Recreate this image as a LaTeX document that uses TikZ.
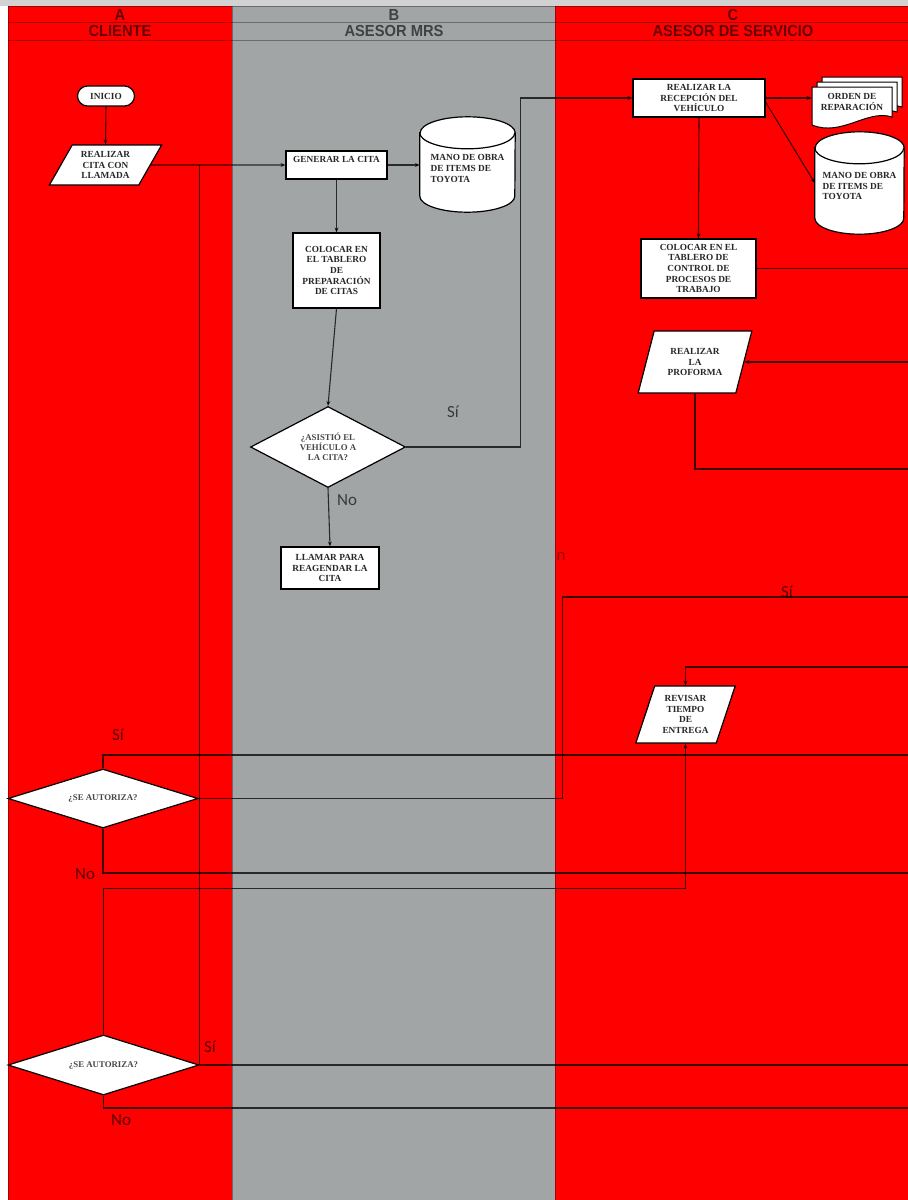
\documentclass[tikz,border=0pt]{standalone}
\usepackage{fontspec}
\setmainfont{Liberation Serif}
\newfontfamily\lblfont{Carlito}
\newfontfamily\hdrfont[FakeStretch=0.92]{Liberation Sans}
\usetikzlibrary{shapes.geometric,arrows.meta,calc}

\definecolor{lanered}{RGB}{255,0,0}
\definecolor{lanegray}{RGB}{162,165,166}
\definecolor{inkgray}{RGB}{40,40,40}

% cylinder outline around an empty slot node: #1 node, #2 half width, #3 cap radius
\newcommand\drawcyl[3]{%
  \draw[shapeline] ([yshift=-#3pt]#1.north west) -- ([yshift=#3pt]#1.south west)
    arc[start angle=180, end angle=360, x radius=#2pt, y radius=#3pt]
    -- ([yshift=-#3pt]#1.north east)
    arc[start angle=0, end angle=180, x radius=#2pt, y radius=#3pt] -- cycle;
  \draw[shapeline, fill=none] ([yshift=-#3pt]#1.north west)
    arc[start angle=180, end angle=360, x radius=#2pt, y radius=#3pt];
}
% one sheet of a document stack, local coordinates
\newcommand\docsheet{(-40,-20) -- (40,-20) -- (40,10) .. controls (15,2) and (-10,30) .. (-40,18) -- cycle}

\tikzset{
  shapeline/.style={draw=black, line width=1.2pt, fill=white},
  box/.style={shapeline, text=inkgray, font=\bfseries\fontsize{9.3}{10.7}\selectfont,
    align=center, inner sep=2pt},
  procbox/.style={box, rectangle},
  stadium/.style={box, rectangle, rounded corners=10pt},
  iobox/.style={box, trapezium, trapezium stretches=true},
  decision/.style={box, diamond, aspect=2.5, inner sep=0pt, text=black!72,
    font=\bfseries\fontsize{8.8}{9.8}\selectfont},
  slot/.style={rectangle, draw=none, fill=none, inner sep=0pt},
  slottext/.style={text=inkgray, font=\bfseries\fontsize{9.3}{10.7}\selectfont, inner sep=0pt},
  conn/.style={draw=black, draw opacity=0.75, line width=1.1pt},
  arr/.style={conn, -{Stealth[length=5pt,width=4pt]}},
  lbl/.style={font=\lblfont\fontsize{17}{17}\selectfont, text=black, text opacity=0.65, inner sep=0pt},
  hdr/.style={font=\hdrfont\bfseries\fontsize{16}{16}\selectfont, text=black, text opacity=0.6, inner sep=0pt},
  laneline/.style={draw=black, draw opacity=0.35, line width=0.8pt}
}

\begin{document}
\begin{tikzpicture}[x=1pt,y=-1pt]
\useasboundingbox (0,0) rectangle (908,1200);
% swimlanes
\fill[white] (0,0) rectangle (908,1200);
\fill[gray!35] (0,0) rectangle (908,6);
\fill[lanered] (8,6) rectangle (232,1200);
\fill[lanegray] (232,6) rectangle (555,1200);
\fill[lanered] (555,6) rectangle (908,1200);
\draw[laneline] (8,6) -- (908,6) (8,22) -- (908,22) (8,40) -- (908,40);
\draw[laneline] (8,6) -- (8,1200) (232,6) -- (232,1200) (555,6) -- (555,1200);

\node[hdr] (hA) at (120,14.5) {A};
\node[hdr] (hAname) at (120,31) {CLIENTE};
\node[hdr] (hB) at (394,14.5) {B};
\node[hdr] (hBname) at (394,31) {ASESOR MRS};
\node[hdr] (hC) at (733,14.5) {C};
\node[hdr] (hCname) at (733,31) {ASESOR DE SERVICIO};

% right border of the sheet, where the open connectors run out
\coordinate (edge) at (908,0);

% ---- Cliente
\node[stadium, minimum width=57pt, minimum height=20pt] (inicio) at (106,96) {INICIO};
\node[iobox, trapezium left angle=60, trapezium right angle=120,
      minimum width=113pt, minimum height=40pt] (cita) at (105.5,165) {REALIZAR\\CITA CON\\LLAMADA};
\node[decision, minimum width=190pt, minimum height=59pt] (auth1) at (103,798.5) {¿SE AUTORIZA?};
\node[decision, minimum width=191pt, minimum height=60pt] (auth2) at (103.5,1065) {¿SE AUTORIZA?};

% ---- Asesor MRS
\node[procbox, minimum width=101pt, minimum height=28pt] (genera) at (336.5,165) {GENERAR LA CITA\\\mbox{}};
\node[slot, minimum width=95pt, minimum height=95pt] (cyl1) at (467.5,164.5) {};
\drawcyl{cyl1}{47.5}{16}
\node[slottext, align=left] (cyl1text) at ([yshift=-4pt]cyl1.center) {MANO DE OBRA\\DE ITEMS DE\\TOYOTA};
\node[procbox, minimum width=87pt, minimum height=75pt] (colocar1) at (336.5,270.5) {COLOCAR EN\\EL TABLERO\\DE\\PREPARACIÓN\\DE CITAS};
\node[decision, minimum width=155pt, minimum height=81pt] (asistio) at (328,447) {¿ASISTIÓ EL\\VEHÍCULO A\\LA CITA?};
\node[procbox, minimum width=98pt, minimum height=42pt] (llamar) at (330,568) {LLAMAR PARA\\REAGENDAR LA\\CITA};

% ---- Asesor de servicio
\node[procbox, minimum width=132pt, minimum height=38pt] (recepcion) at (699,98) {REALIZAR LA\\RECEPCIÓN DEL\\VEHÍCULO};
\node[slot, minimum width=80pt, minimum height=40pt] (orden) at (852,107) {};
\begin{scope}[shift={(orden.center)}]
  \draw[shapeline, line width=1pt] [shift={(10,-10)}] \docsheet;
  \draw[shapeline, line width=1pt] [shift={(5,-5)}] \docsheet;
  \draw[shapeline, line width=1pt] \docsheet;
\end{scope}
\node[slottext, align=center] (ordentext) at ([yshift=5pt]orden.center) {ORDEN DE\\REPARACIÓN};
\node[slot, minimum width=89pt, minimum height=102pt] (cyl2) at (859.5,183) {};
\drawcyl{cyl2}{44.5}{16}
\node[slottext, align=left] (cyl2text) at ([yshift=-3pt]cyl2.center) {MANO DE OBRA\\DE ITEMS DE\\TOYOTA};
\node[procbox, minimum width=115pt, minimum height=59pt] (colocar2) at (698.5,268.5) {COLOCAR EN EL\\TABLERO DE\\CONTROL DE\\PROCESOS DE\\TRABAJO};
\node[iobox, trapezium left angle=70, trapezium right angle=110,
      minimum width=114pt, minimum height=62pt] (proforma) at (695,362) {REALIZAR\\LA\\PROFORMA};
\node[iobox, trapezium left angle=70, trapezium right angle=110,
      minimum width=100pt, minimum height=57pt] (revisar) at (685.5,714.5) {REVISAR\\TIEMPO\\DE\\ENTREGA};

% open ends at the right border
\coordinate (pfout) at (908,469);
\coordinate (rvin) at (908,667);
\coordinate (siout) at (908,597);
\coordinate (a1si) at (908,755);
\coordinate (a1no) at (908,873);
\coordinate (a2no) at (908,1108);

% ---- connectors
\draw[arr] (inicio.south) -- (cita.north);
\draw[arr] (cita.east) -- (genera.west);
\draw[arr] (genera.east) -- (genera.east -| cyl1.west);
\draw[arr] (genera.south) -- (colocar1.north);
\draw[arr] (colocar1.south) -- (asistio.north);
\draw[arr] (asistio.east) -- ++(114,0) |- (recepcion.west);
\draw[arr] (asistio.south) -- (llamar.north);

\draw[arr] (recepcion.east) -- (recepcion.east -| orden.west);
\draw[arr] ([yshift=-4pt]recepcion.east) -- (cyl2.west);
\draw[arr] (recepcion.south) -- (colocar2.north);
\draw[conn] (colocar2.east) -- (colocar2.east -| edge);
\draw[arr] (proforma.east -| edge) -- (proforma.east);
\draw[conn] (proforma.south) |- (pfout);
\draw[arr] (rvin) -| (revisar.north);

\draw[conn] (auth1.east) -- ++(364,0) |- (siout);
\draw[conn] (auth1.north) |- (a1si);
\draw[conn] (auth1.south) |- (a1no);
\draw[arr] (auth2.north) -- ++(0,-146) -| (revisar.south);
\draw[conn] (auth2.east) -- (auth2.east -| edge);
\draw[conn] (auth2.east) -- (auth2.east |- genera.west);
\draw[conn] (auth2.south) |- (a2no);

% ---- branch labels
\node[lbl] (lsi1) at (453,412) {Sí};
\node[lbl] (lno1) at (347,500) {No};
\node[lbl, text opacity=0.45] (lstray) at (561,556) {n};
\node[lbl] (lsi2) at (787,592) {Sí};
\node[lbl] (lsi3) at (118,735) {Sí};
\node[lbl] (lno3) at (85,874) {No};
\node[lbl] (lsi4) at (210,1047) {Sí};
\node[lbl] (lno4) at (121,1120) {No};
\end{tikzpicture}
\end{document}
